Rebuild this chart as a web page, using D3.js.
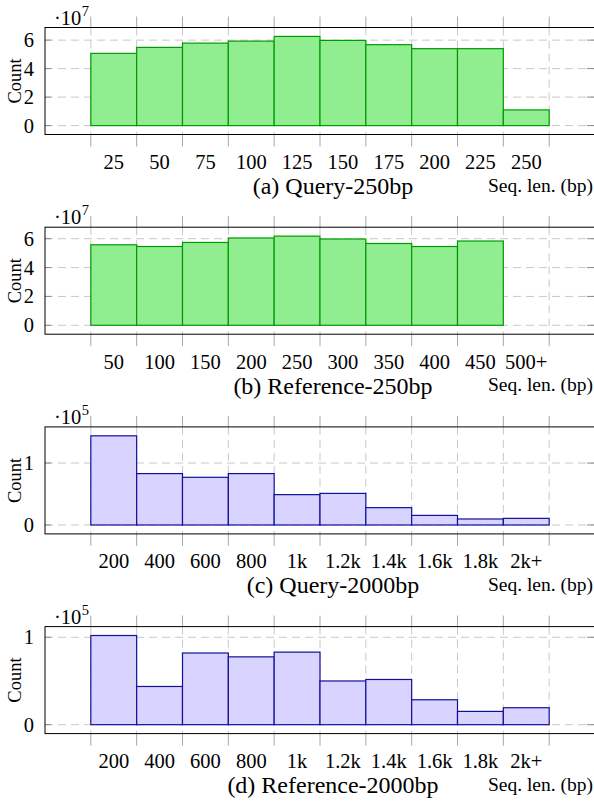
<!DOCTYPE html>
<html>
<head>
<meta charset="utf-8">
<script src="https://cdn.jsdelivr.net/npm/d3@7"></script>
<style>
  body { margin: 0; background: #fff; }
  svg { display: block; font-family: "Liberation Serif", "Times New Roman", serif; }
</style>
</head>
<body>
<div id="chart"></div>
<script>
// Bin labels
const labels250q = ["25", "50", "75", "100", "125", "150", "175", "200", "225", "250"];
const labels250r = ["50", "100", "150", "200", "250", "300", "350", "400", "450", "500+"];
const labels2000 = ["200", "400", "600", "800", "1k", "1.2k", "1.4k", "1.6k", "1.8k", "2k+"];

// Counts per bin
const countsQuery250 = [5.07e7, 5.49e7, 5.79e7, 5.93e7, 6.26e7, 5.98e7, 5.68e7, 5.40e7, 5.40e7, 1.10e7];
const countsRef250   = [5.58e7, 5.46e7, 5.74e7, 6.05e7, 6.18e7, 5.98e7, 5.67e7, 5.46e7, 5.84e7, 0];
const countsQuery2000 = [1.44e5, 0.83e5, 0.77e5, 0.83e5, 0.49e5, 0.51e5, 0.28e5, 0.155e5, 0.097e5, 0.107e5];
const countsRef2000   = [1.02e5, 0.437e5, 0.82e5, 0.776e5, 0.83e5, 0.50e5, 0.517e5, 0.285e5, 0.152e5, 0.194e5];

const yTicks7 = [0, 2, 4, 6];
const yTicks5 = [0, 1];

const panels = [
  { caption: "(a) Query-250bp", labels: labels250q, counts: countsQuery250, exp: 7, yTicks: yTicks7, fill: "#90ee90", stroke: "#009a00" },
  { caption: "(b) Reference-250bp", labels: labels250r, counts: countsRef250, exp: 7, yTicks: yTicks7, fill: "#90ee90", stroke: "#009a00" },
  { caption: "(c) Query-2000bp", labels: labels2000, counts: countsQuery2000, exp: 5, yTicks: yTicks5, fill: "#d9d3ff", stroke: "#10109a" },
  { caption: "(d) Reference-2000bp", labels: labels2000, counts: countsRef2000, exp: 5, yTicks: yTicks5, fill: "#d9d3ff", stroke: "#10109a" }
];

const W = 594, H = 802;
const svg = d3.select("#chart").append("svg")
  .attr("width", W)
  .attr("height", H);

const left = 45, right = 595;
const frameH = 107;
const panelStep = 199.7;

panels.forEach((p, i) => {
  const top = 27.5 + i * panelStep;
  const bottom = top + frameH;
  const g = svg.append("g");

  const scaleFactor = Math.pow(10, p.exp);
  const vals = p.counts.map(c => c / scaleFactor);
  const maxV = d3.max(vals);

  const x = d3.scaleLinear().domain([-1, p.labels.length + 1]).range([left, right]);
  const y = d3.scaleLinear().domain([-0.1 * maxV, 1.1 * maxV]).range([bottom, top]);
  const edges = d3.range(p.labels.length + 1);

  // grid
  g.selectAll(".hgrid").data(p.yTicks).enter().append("line")
    .attr("x1", left).attr("x2", right)
    .attr("y1", d => y(d)).attr("y2", d => y(d))
    .attr("stroke", "#c8c8c8").attr("stroke-dasharray", "8,5");
  g.selectAll(".vgrid").data(edges).enter().append("line")
    .attr("x1", d => x(d)).attr("x2", d => x(d))
    .attr("y1", top).attr("y2", bottom)
    .attr("stroke", "#c8c8c8").attr("stroke-dasharray", "8,5");

  // bars
  g.selectAll(".bar").data(vals).enter().append("rect")
    .attr("x", (d, j) => x(j))
    .attr("width", (d, j) => x(j + 1) - x(j))
    .attr("y", d => y(d))
    .attr("height", d => y(0) - y(d))
    .attr("fill", p.fill)
    .attr("stroke", p.stroke)
    .attr("stroke-width", 1.2);

  // x ticks outside frame, top and bottom
  g.selectAll(".xt1").data(edges).enter().append("line")
    .attr("x1", d => x(d)).attr("x2", d => x(d))
    .attr("y1", top - 11).attr("y2", top)
    .attr("stroke", "#a8a8a8");
  g.selectAll(".xt2").data(edges).enter().append("line")
    .attr("x1", d => x(d)).attr("x2", d => x(d))
    .attr("y1", bottom).attr("y2", bottom + 12)
    .attr("stroke", "#a8a8a8");

  // y ticks inside frame
  g.selectAll(".yt1").data(p.yTicks).enter().append("line")
    .attr("x1", left).attr("x2", left + 6)
    .attr("y1", d => y(d)).attr("y2", d => y(d))
    .attr("stroke", "#8a8a8a");
  g.selectAll(".yt2").data(p.yTicks).enter().append("line")
    .attr("x1", right - 8).attr("x2", right)
    .attr("y1", d => y(d)).attr("y2", d => y(d))
    .attr("stroke", "#8a8a8a");

  // frame
  g.append("rect")
    .attr("x", left).attr("y", top)
    .attr("width", right - left).attr("height", frameH)
    .attr("fill", "none").attr("stroke", "#000").attr("stroke-width", 1);

  // y tick labels
  g.selectAll(".yl").data(p.yTicks).enter().append("text")
    .attr("x", 34).attr("y", d => y(d) + 7)
    .attr("text-anchor", "end")
    .attr("font-size", 20.5)
    .text(d => d);

  // exponent
  const ex = g.append("text").attr("x", 54).attr("y", top - 3).attr("font-size", 20.5);
  ex.append("tspan").text("·10");
  ex.append("tspan").attr("dx", 0.5).attr("dy", -9).attr("font-size", 14.5).text(p.exp);

  // Count label
  g.append("text")
    .attr("transform", `translate(21,${(top + bottom) / 2}) rotate(-90)`)
    .attr("text-anchor", "middle")
    .attr("font-size", 18.5)
    .text("Count");

  // x tick labels at bin centres
  g.selectAll(".xl").data(p.labels).enter().append("text")
    .attr("x", (d, j) => x(j + 0.5))
    .attr("y", bottom + 34.5)
    .attr("text-anchor", "middle")
    .attr("font-size", 20.5)
    .text(d => d);

  // caption and axis label
  g.append("text")
    .attr("x", 333).attr("y", bottom + 59.5)
    .attr("text-anchor", "middle")
    .attr("font-size", 24)
    .text(p.caption);
  g.append("text")
    .attr("x", 593).attr("y", bottom + 57)
    .attr("text-anchor", "end")
    .attr("font-size", 19.5)
    .text("Seq. len. (bp)");
});
</script>
</body>
</html>
